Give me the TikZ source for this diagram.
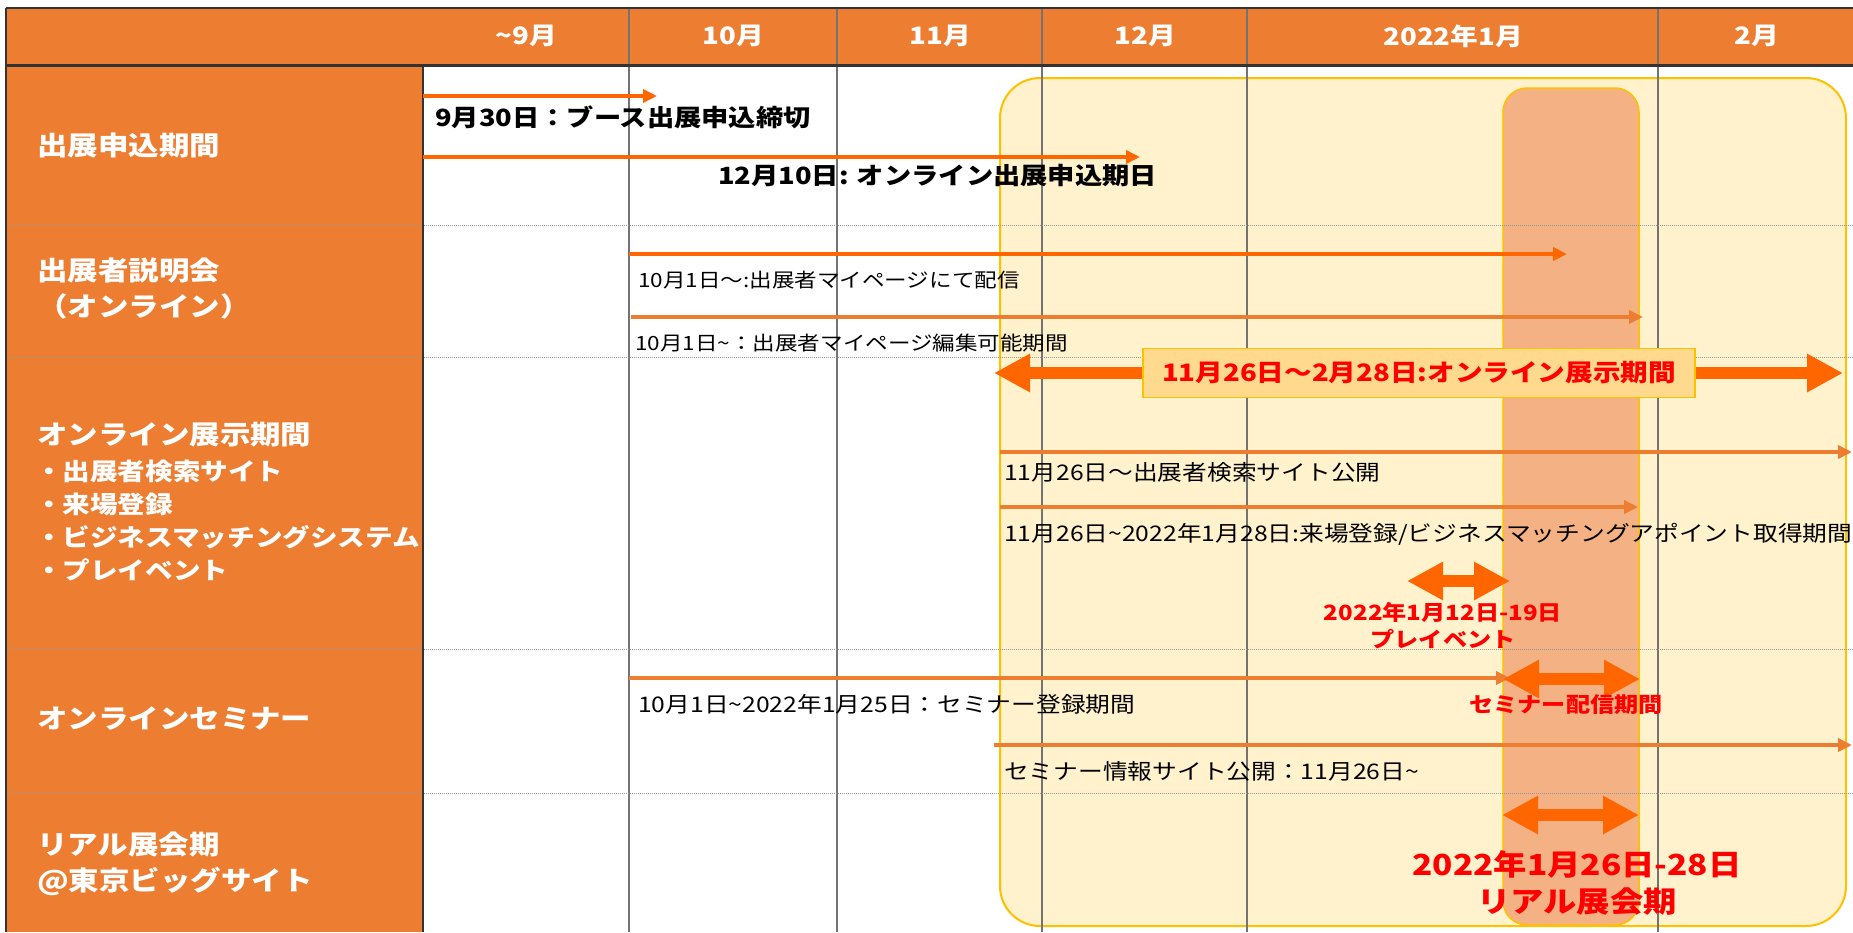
\documentclass[tikz,border=0pt]{standalone}
\usepackage{fontspec}
\setmainfont{Noto Sans CJK JP}[FakeStretch=1.15]
\usepackage{tikz}
\usetikzlibrary{arrows.meta}

\definecolor{hdrorange}{HTML}{ED7D31}
\definecolor{vivid}{HTML}{FF6600}
\definecolor{soft}{HTML}{ED7D31}
\definecolor{cream}{HTML}{FFF2CC}
\definecolor{gold}{HTML}{FFC000}
\definecolor{peach}{HTML}{F4B183}
\definecolor{tagfill}{HTML}{FFD98E}
\definecolor{alert}{HTML}{FF0000}

\begin{document}
\begin{tikzpicture}[x=1pt, y=-1pt,
  month/.style={text=white, inner sep=0, font=\bfseries\fontsize{24}{28}\selectfont},
  cat/.style={anchor=west, inner sep=0, align=left, text=white,
    font=\bfseries\fontsize{26.5}{36}\selectfont},
  catsub/.style={anchor=west, inner sep=0, align=left, text=white,
    font=\bfseries\fontsize{24}{33}\selectfont},
  deadline/.style={anchor=west, inner sep=0, font=\bfseries\fontsize{23.7}{28}\selectfont},
  note/.style={anchor=west, inner sep=0, font=\fontsize{19.6}{24}\selectfont},
  bignote/.style={anchor=west, inner sep=0, font=\fontsize{21.5}{26}\selectfont},
  redlabel/.style={text=alert, inner sep=0, align=center,
    font=\bfseries\fontsize{21}{27}\selectfont},
  bar/.style={line width=4pt, -{Triangle[length=14pt,width=13pt]}},
  span/.style={vivid, line width=12pt,
    {Triangle[length=36pt,width=36pt]}-{Triangle[length=36pt,width=36pt]}},
  grid/.style={black!55, line width=1.2pt},
  sep/.style={black!40, line width=1pt, dash pattern=on 1pt off 1pt}
]
\useasboundingbox (0,0) rectangle (1853,932);
\fill[white] (0,0) rectangle (1853,932);

% header and category column
\fill[hdrorange] (6,8) rectangle (1853,65);
\fill[hdrorange] (6,65) rectangle (423,932);

% exhibition periods
\draw[gold, fill=cream, line width=2pt, rounded corners=40pt] (1000,78) rectangle (1846,926);
\draw[gold, fill=peach, line width=1.5pt, rounded corners=24pt] (1503,88) rectangle (1639,925);

\foreach \gx in {629,837,1042,1247,1658}
  \draw[grid] (\gx,8) -- (\gx,932);
\foreach \gy in {225,357,649,793}
  \draw[sep] (6,\gy) -- (1853,\gy);
\draw[black!80, line width=2.5pt] (6,8) -- (1853,8);
\draw[black!80, line width=3pt] (6,65) -- (1853,65);
\draw[black!80, line width=1.5pt] (6,8) -- (6,932);
\draw[black!80, line width=1.5pt] (423,65) -- (423,932);

\node[month] (sep9) at (526,36) {\textasciitilde 9月};
\node[month] (oct) at (733,36) {10月};
\node[month] (nov) at (940,36) {11月};
\node[month] (dec) at (1145,36) {12月};
\node[month] (jan) at (1453,36) {2022年1月};
\node[month] (feb) at (1757,36) {2月};

\node[cat] (apply) at (37,145) {出展申込期間};
\node[cat] (brief) at (37,289) {出展者説明会\\（オンライン）};
\node[cat] (expo) at (37,435) {オンライン展示期間};
\node[catsub] (expoitems) at (35,521) {・出展者検索サイト\\・来場登録\\・ビジネスマッチングシステム\\・プレイベント};
\node[cat] (seminar) at (37,718) {オンラインセミナー};
\node[cat] (real) at (37,864) {リアル展会期\\@東京ビッグサイト};

\coordinate (booth0) at (423,96);    \coordinate (booth1) at (657,96);
\coordinate (online0) at (423,157);  \coordinate (online1) at (1140,157);
\coordinate (deliver0) at (629,254); \coordinate (deliver1) at (1567,254);
\coordinate (edit0) at (631,317);    \coordinate (edit1) at (1643,317);
\coordinate (show0) at (994,373);    \coordinate (show1) at (1843,373);
\coordinate (search0) at (1000,452); \coordinate (search1) at (1852,452);
\coordinate (visit0) at (1000,507);  \coordinate (visit1) at (1638,507);
\coordinate (pre0) at (1407,581);    \coordinate (pre1) at (1510,581);
\coordinate (semreg0) at (629,678);  \coordinate (semreg1) at (1510,678);
\coordinate (semlive0) at (1503,679); \coordinate (semlive1) at (1640,679);
\coordinate (seminfo0) at (994,745); \coordinate (seminfo1) at (1852,745);
\coordinate (hall0) at (1502,815);   \coordinate (hall1) at (1639,815);

\draw[bar, vivid] (booth0) -- (booth1);
\draw[bar, vivid] (online0) -- (online1);
\draw[bar, vivid] (deliver0) -- (deliver1);
\draw[bar, soft] (edit0) -- (edit1);
\draw[span] (show0) -- (show1);
\draw[bar, soft] (search0) -- (search1);
\draw[bar, soft] (visit0) -- (visit1);
\draw[span] (pre0) -- (pre1);
\draw[bar, soft] (semreg0) -- (semreg1);
\draw[span] (semlive0) -- (semlive1);
\draw[bar, soft] (seminfo0) -- (seminfo1);
\draw[span] (hall0) -- (hall1);

\node[deadline] (boothtxt) at (435,117) {9月30日：ブース出展申込締切};
\node[deadline] (onlinetxt) at (718,176) {12月10日: オンライン出展申込期日};
\node[note] (delivertxt) at (638,280) {10月1日～:出展者マイページにて配信};
\node[note] (edittxt) at (635,343) {10月1日\textasciitilde ：出展者マイページ編集可能期間};
\node[draw=gold, fill=tagfill, line width=1.5pt, minimum width=552pt, minimum height=49pt,
  text=alert, font=\bfseries\fontsize{24}{28}\selectfont] (showtag) at (1419,373)
  {11月26日～2月28日:オンライン展示期間};
\node[bignote] (searchtxt) at (1004,472) {11月26日～出展者検索サイト公開};
\node[bignote] (visittxt) at (1004,534) {11月26日\textasciitilde 2022年1月28日:来場登録/ビジネスマッチングアポイント取得期間};
\node[redlabel] (pretxt) at (1443,626) {2022年1月12日-19日\\プレイベント};
\node[bignote] (semregtxt) at (638,704) {10月1日\textasciitilde 2022年1月25日：セミナー登録期間};
\node[redlabel] (semlivetxt) at (1566,705) {セミナー配信期間};
\node[bignote] (seminfotxt) at (1004,771) {セミナー情報サイト公開：11月26日\textasciitilde};
\node[redlabel, font=\bfseries\fontsize{29}{37}\selectfont] (halltxt) at (1577,883) {2022年1月26日-28日\\リアル展会期};

\end{tikzpicture}
\end{document}
